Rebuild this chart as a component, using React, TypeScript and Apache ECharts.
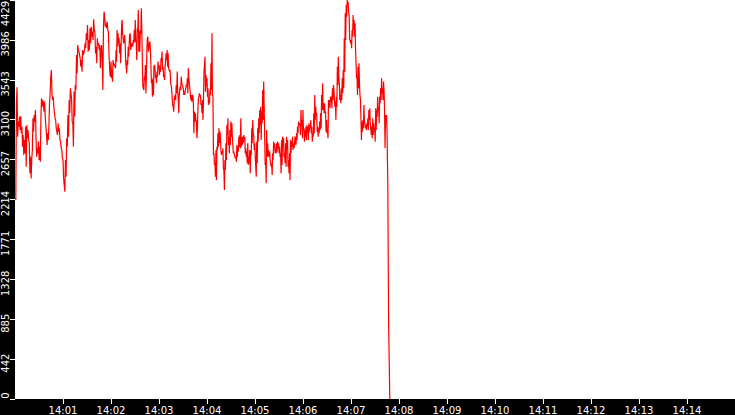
import React, { useEffect, useRef } from 'react';
import * as echarts from 'echarts';

// y axis: 0 .. 4429 in ten steps
const Y_MAX = 4429;
const Y_STEP = 442.9;

// x axis in seconds after 14:00:00
const X_MIN = 0;
const X_MAX = 900;
const BASE_HOUR = 14;

// readings, four stretches of the trace, with their start/end second
const segBounds: Array<[number, number]> = [
  [1, 117.5],
  [118.75, 236.25],
  [237.5, 355],
  [356.25, 465],
];

const seg1 = [
  2209, 3282, 3460, 2912, 3079, 3023, 3134, 2986, 3140, 2949, 3023, 2801, 2931, 2709, 2875, 2727, 3023, 2579,
  3042, 2894, 2986, 2875, 2838, 2505, 2690, 2449, 2653, 2764, 3116, 2968, 3153, 3079, 3208, 2894, 2690, 2783,
  2727, 2857, 2653, 2801, 2635, 3134, 3338, 3245, 3319, 3282, 3190, 3301, 3134, 3023, 2949, 2820, 2949, 2875,
  3023, 3282, 3393, 3578, 3652, 3393, 3319, 3356, 3245, 3245, 3116, 3097, 3005, 3005, 2931, 3060, 2968, 3005,
  2875, 2857, 2783, 2764, 2672, 2653, 2449, 2449, 2302, 2653, 2468, 2894, 2801, 3153, 2912, 3319, 3171, 3449,
  3393, 3319, 3079, 3060, 2801, 3412, 3134, 3486, 3430, 3819, 3615, 3930, 3874, 3856, 3819, 3782, 3689, 3763,
  3634, 3874, 3819, 3837, 3874, 3948, 3893, 4059, 3985, 4152, 3856, 3985, 3874, 4115, 3948, 4133, 4022, 4078,
  3985, 4214, 4096, 4078, 3837, 3911, 3726, 4004, 3930, 3948, 3874, 3930, 3671, 3874, 3930, 3745, 3430, 4133,
  4300, 4226, 4133, 4170, 4115, 4189, 4096, 4078, 3819,
];

const seg2 = [
  3597, 3578, 3745, 3560, 3652, 3523, 3763, 3707, 3726, 3689, 3707, 3671, 3874, 3745, 4096, 3911, 4059, 3948,
  4004, 3837, 3948, 3726, 3911, 4152, 4207, 4059, 4004, 3948, 3985, 4041, 3948, 3745, 3689, 3615, 3763, 3707,
  3911, 3800, 3948, 4041, 4059, 3874, 3874, 3948, 3948, 3911, 3985, 3948, 4096, 3967, 4207, 3985, 3948, 3763,
  4115, 4078, 4318, 3856, 4078, 3856, 4096, 4059, 4337, 4078, 3763, 3467, 3449, 3430, 3578, 3541, 3707, 3393,
  3578, 3893, 4004, 4022, 3856, 3893, 3948, 3967, 3874, 3874, 3504, 3541, 3356, 3560, 3375, 3689, 3707, 3671,
  3560, 3597, 3504, 3634, 3578, 3745, 3689, 3707, 3597, 3689, 3634, 3782, 3745, 3856, 3652, 3689, 3578, 3597,
  3541, 3689, 3745, 3837, 3763, 3874, 3689, 3837, 3671, 3671, 3634, 3652, 3504, 3486, 3430, 3430, 3264, 3245,
  3190, 3301, 3356, 3375, 3319, 3486, 3393, 3634, 3412, 3356, 3171, 3356, 3430, 3467, 3430, 3578, 3504, 3504,
  3467, 3449, 3375, 3412, 3375, 3430, 3449, 3486, 3467, 3560, 3393, 3671, 3560, 3560, 3449, 3375, 3319, 3375,
  3301, 3356, 3375, 3282, 2949, 3190, 3079, 3171, 3097, 3079, 2894, 3005, 3227, 3338, 3356, 3393, 3356, 3375,
  3264, 3282, 3171, 3319, 3097, 3319, 3634,
];

const seg3 = [
  3800, 3412, 3597, 3467, 3560, 3356, 3449, 3264, 3319, 3282, 3430, 3375, 3726, 3430, 4059, 3375, 3356, 2709,
  2727, 2598, 2616, 2468, 2764, 2431, 2801, 2764, 2949, 2801, 3005, 2838, 2968, 2912, 2764, 2709, 2746, 2727,
  2783, 2560, 2542, 2320, 2653, 2542, 2838, 2653, 3042, 2931, 3116, 2820, 2912, 2727, 2986, 2820, 3079, 2912,
  3060, 2912, 2912, 2727, 2746, 2709, 2709, 2672, 2690, 2635, 2820, 2690, 2801, 2746, 2912, 2801, 2931, 2783,
  3116, 2801, 2912, 2820, 2912, 2838, 2931, 2875, 2912, 2727, 2783, 2690, 2746, 2616, 2838, 2598, 2690, 2616,
  2764, 2505, 2764, 2709, 3005, 2838, 3097, 2949, 2931, 2764, 2838, 2690, 2690, 2468, 2857, 2616, 3005, 2857,
  3116, 2949, 3208, 3042, 3245, 2875, 3190, 3060, 3430, 3097, 3523, 3245, 3245, 2598, 2616, 2394, 2986, 2690,
  2838, 2690, 2764, 2690, 2746, 2653, 2653, 2579, 2616, 2486, 2727, 2653, 2857, 2783, 2838, 2727, 2783, 2727,
  2838, 2746, 2857, 2783, 2838, 2727, 2801, 2690, 2727, 2505, 2875, 2598, 2912, 2801, 2894, 2690, 2727, 2616,
  2838, 2579, 2912, 2764, 2875, 2579, 2653, 2505, 2727, 2431, 2875, 2727, 2857, 2801, 2912, 2764, 2838, 2783,
  2838, 2912, 2838, 2820, 2949, 2875, 3023, 2949, 3079, 3042,
];

const seg4 = [
  3060, 2931, 3208, 3023, 3097, 2894, 3208, 2986, 3005, 2857, 2986, 2912, 3023, 2875, 3042, 2949, 3023, 2875,
  3060, 2968, 3042, 3005, 3097, 2949, 3023, 2857, 2949, 2912, 3171, 2949, 3375, 3097, 3245, 3153, 3171, 2968,
  3023, 2912, 3005, 2949, 3079, 2986, 3171, 3005, 3375, 3208, 3504, 3208, 3282, 3171, 3282, 3171, 3190, 2968,
  3097, 2949, 2986, 2894, 3319, 3245, 3319, 3227, 3356, 3301, 3356, 3227, 3449, 3319, 3486, 3430, 3338, 3245,
  3301, 3097, 3356, 3245, 3689, 3486, 3800, 3578, 3504, 3319, 3375, 3282, 3449, 3319, 3560, 3393, 3652, 3449,
  4004, 3634, 4281, 3985, 4374, 4244, 4429, 4374, 4410, 4281, 4263, 4004, 4004, 3948, 3985, 3893, 4096, 4022,
  4263, 4096, 4207, 4022, 4170, 3893, 3726, 3560, 3578, 3375, 3689, 3449, 3726, 3504, 3375, 3319, 3116, 2875,
  3079, 2968, 3097, 3005, 3264, 3097, 3097, 3005, 3042, 2986, 3060, 3023, 3116, 2986, 3208, 3097, 3227, 3060,
  3060, 2931, 3023, 2894, 3116, 2931, 3060, 2986, 3005, 2857, 3227, 2986, 3208, 3134, 3356, 3208, 3227, 3060,
  3356, 3282, 3449, 3319, 3560, 3393, 3449, 3319, 3523, 3412, 3208, 2783, 3153, 3079, 3153, 2986,
];

// the final drop to zero
const tailSeconds = [466, 467, 468.5];
const tailValues = [2394, 844, 0];

const segments = [seg1, seg2, seg3, seg4];

const FONT = 'DejaVu Sans';

const pad2 = (n: number) => (n < 10 ? '0' + n : String(n));

const App: React.FC = () => {
  const chartRef = useRef<HTMLDivElement>(null);

  useEffect(() => {
    if (!chartRef.current) return;
    const chart = echarts.init(chartRef.current, undefined, { renderer: 'svg' });

    const points: Array<[number, number]> = [];
    segments.forEach((vals, s) => {
      const [t0, t1] = segBounds[s];
      const step = (t1 - t0) / (vals.length - 1);
      vals.forEach((v, i) => points.push([t0 + i * step, v]));
    });
    tailSeconds.forEach((t, i) => points.push([t, tailValues[i]]));

    chart.setOption({
      animation: false,
      backgroundColor: '#000000',
      grid: {
        show: true,
        left: 15,
        right: 0,
        top: 0,
        bottom: 16,
        outerBoundsMode: 'none',
        containLabel: false,
        backgroundColor: '#ffffff',
        borderWidth: 0
      },
      xAxis: {
        type: 'value',
        min: X_MIN,
        max: X_MAX,
        interval: 60,
        axisLine: { show: false },
        axisTick: { show: true, length: 5, lineStyle: { color: '#ffffff', width: 1 } },
        splitLine: { show: false },
        axisLabel: {
          color: '#ffffff',
          fontFamily: FONT,
          fontSize: 10,
          margin: 6,
          showMinLabel: false,
          showMaxLabel: false,
          formatter: (v: number) => {
            const total = BASE_HOUR * 3600 + v;
            return `${Math.floor(total / 3600)}:${pad2(Math.floor((total % 3600) / 60))}`;
          }
        }
      },
      yAxis: {
        type: 'value',
        min: 0,
        max: Y_MAX,
        interval: Y_STEP,
        axisLine: { show: false },
        axisTick: { show: true, length: 5, lineStyle: { color: '#ffffff', width: 1 } },
        splitLine: { show: false },
        axisLabel: {
          rotate: 90,
          color: '#ffffff',
          fontFamily: FONT,
          fontSize: 10,
          margin: 5,
          formatter: (v: number, idx: number) => {
            const s = String(Math.floor(v + 1e-6));
            if (idx === 0) return `{lo|${s}}`;
            if (v >= Y_MAX - 1e-6) return `{hi|${s}}`;
            return `{mid|${s}}`;
          },
          rich: {
            lo: { color: '#ffffff', fontFamily: FONT, fontSize: 10, padding: [0, 0, 0, 7] },
            mid: { color: '#ffffff', fontFamily: FONT, fontSize: 10, padding: [0, 8, 0, 0] },
            hi: { color: '#ffffff', fontFamily: FONT, fontSize: 10, padding: [0, 27, 0, 0] }
          }
        }
      },
      series: [
        {
          type: 'line',
          data: points,
          showSymbol: false,
          symbol: 'none',
          lineStyle: { color: '#ff0000', width: 1.2 },
          itemStyle: { color: '#ff0000' }
        }
      ]
    });

    return () => {
      chart.dispose();
    };
  }, []);

  return (
    <div
      ref={chartRef}
      style={{ position: 'fixed', left: 0, top: 0, width: 735, height: 415 }}
    />
  );
};

export default App;
